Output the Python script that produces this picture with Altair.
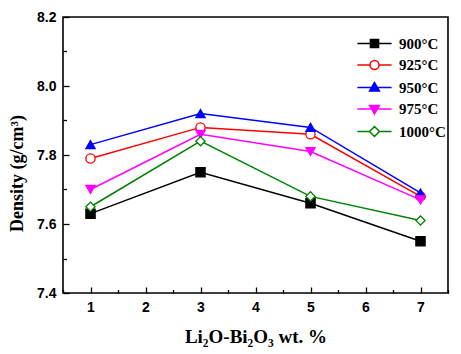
import altair as alt
import pandas as pd

x_vals = [1, 3, 5, 7]
series = ["900°C", "925°C", "950°C", "975°C", "1000°C"]
d900 = [7.63, 7.75, 7.66, 7.55]
d925 = [7.79, 7.88, 7.86, 7.68]
d950 = [7.83, 7.92, 7.88, 7.69]
d975 = [7.70, 7.86, 7.81, 7.67]
d1000 = [7.65, 7.84, 7.68, 7.61]
colors = ["#000000", "#ff0000", "#0000ff", "#ff00ff", "#008000"]
fills = ["#000000", "#ffffff", "#0000ff", "#ff00ff", "#ffffff"]
shapes = ["square", "circle", "triangle-up", "triangle-down", "diamond"]
legend_paths = [
    "M-3.8,0H3.8M-0.9,-0.9H0.9V0.9H-0.9Z",
    "M-3.8,0H-1M1,0H3.8M-1,0A1,1,0,1,0,1,0A1,1,0,1,0,-1,0Z",
    "M-3.8,0H3.8M0,-1.1L1.1,0.8H-1.1Z",
    "M-3.8,0H3.8M0,1.1L1.1,-0.8H-1.1Z",
    "M-3.8,0H-1.1M1.1,0H3.8M0,-1.1L1.1,0L0,1.1L-1.1,0Z",
]
x_major = [1, 2, 3, 4, 5, 6, 7]
x_minor = [0.5, 1.5, 2.5, 3.5, 4.5, 5.5, 6.5, 7.5]
y_major = [7.4, 7.6, 7.8, 8.0, 8.2]
y_minor = [7.5, 7.7, 7.9, 8.1]

rows = []
for s, vals in zip(series, [d900, d925, d950, d975, d1000]):
    for x, v in zip(x_vals, vals):
        rows.append({"x": x, "density": v, "series": s, "series_legend": s})
df = pd.DataFrame(rows)

SERIF = "Liberation Serif"
SANS = "Liberation Sans"

xscale = alt.Scale(domain=[0.5, 7.5], nice=False, zero=False)
yscale = alt.Scale(domain=[7.4, 8.2], nice=False, zero=False)


def label_axis(values, title, orient, fmt, extra):
    return alt.Axis(values=values, orient=orient, ticks=False, tickSize=0, domain=False,
                    grid=False, title=title, format=fmt, labelFont=SANS, labelFontWeight="bold",
                    labelFontSize=14, labelColor="black", labelPadding=7,
                    titleFont=SERIF, titleFontWeight="bold", titleColor="black", **extra)


def tick_axis(values, orient, size):
    return alt.Axis(values=values, orient=orient, ticks=True, tickSize=size, offset=-size,
                    tickColor="black", tickWidth=1.3, labels=False, domain=False,
                    grid=False, title=None)


base = alt.Chart(df)

lines = base.mark_line(strokeWidth=1.5).encode(
    x=alt.X("x:Q", scale=xscale,
            axis=label_axis(x_major, "Li₂O-Bi₂O₃ wt. %", "bottom", "d",
                            {"titleFontSize": 19, "titlePadding": 13})),
    y=alt.Y("density:Q", scale=yscale,
            axis=label_axis(y_major, "Density (g/cm³)", "left", ".1f",
                            {"titleFontSize": 18, "titlePadding": 10, "titleY": 156})),
    color=alt.Color("series:N", scale=alt.Scale(domain=series, range=colors), legend=None),
    detail="series:N",
)

points = base.mark_point(size=85, strokeWidth=1.3, opacity=1).encode(
    x=alt.X("x:Q", scale=xscale, axis=tick_axis(x_major, "bottom", 6)),
    y=alt.Y("density:Q", scale=yscale, axis=tick_axis(y_major, "left", 6)),
    stroke=alt.Stroke("series:N", scale=alt.Scale(domain=series, range=colors), legend=None),
    fill=alt.Fill("series:N", scale=alt.Scale(domain=series, range=fills), legend=None),
    shape=alt.Shape("series:N", scale=alt.Scale(domain=series, range=shapes), legend=None),
)

leg = alt.Legend(orient="none", legendX=304, legendY=19, title=None, padding=0,
                 labelFont=SERIF, labelFontWeight="bold", labelFontSize=15,
                 labelColor="black", labelOffset=17, rowPadding=5.5, symbolOffset=0,
                 symbolStrokeWidth=1.5, symbolSize=81)

legend_layer = base.mark_point(size=81, strokeWidth=1.5, opacity=1).encode(
    x=alt.X("x:Q", scale=xscale, axis=tick_axis(x_minor, "bottom", 3.5)),
    y=alt.Y("density:Q", scale=yscale, axis=tick_axis(y_minor, "left", 3.5)),
    stroke=alt.Stroke("series_legend:N", scale=alt.Scale(domain=series, range=colors), legend=leg),
    fill=alt.Fill("series_legend:N", scale=alt.Scale(domain=series, range=fills), legend=leg),
    shape=alt.Shape("series_legend:N", scale=alt.Scale(domain=series, range=legend_paths), legend=leg),
).transform_filter("false")

chart = alt.layer(lines, points, legend_layer).resolve_scale(
    color="independent", stroke="independent", fill="independent", shape="independent"
).resolve_axis(x="independent", y="independent").properties(
    width=385, height=276,
    autosize=alt.AutoSizeParams(type="none"),
    padding={"left": 63, "top": 17, "right": 13, "bottom": 61},
    background="white",
).configure_view(stroke="black", strokeWidth=1.6)

chart.save("out.html", embed_options={"renderer": "svg", "actions": False})
